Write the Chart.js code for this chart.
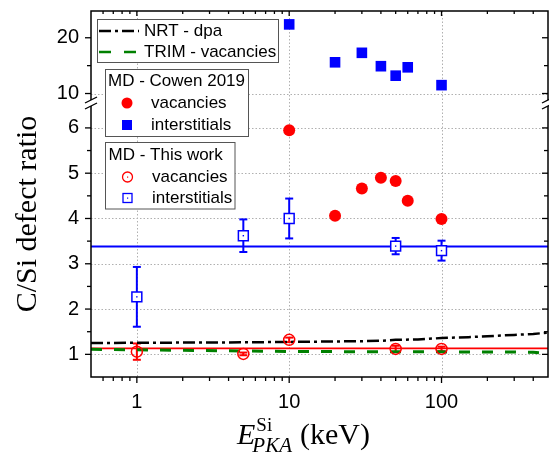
<!DOCTYPE html>
<html>
<head>
<meta charset="utf-8">
<script src="https://cdn.jsdelivr.net/npm/chart.js@4.4.0/dist/chart.umd.min.js"></script>
<style>
  html, body { margin: 0; padding: 0; background: #fff; overflow: hidden; }
  canvas { display: block; }
</style>
</head>
<body>
<canvas id="chart" width="549" height="454"></canvas>
<script>
// values (E_PKA in keV, C/Si ratio)
const nrtE = [0.5, 1, 2, 5, 10, 20, 30, 40, 50, 70, 100, 150, 200, 300, 400, 500];
const nrtRatio = [1.25, 1.255, 1.26, 1.265, 1.275, 1.285, 1.29, 1.30, 1.32, 1.33, 1.36, 1.38, 1.40, 1.43, 1.45, 1.48];
const trimE = [0.5, 1, 2, 5, 10, 20, 50, 100, 200, 300, 400, 500];
const trimRatio = [1.11, 1.10, 1.09, 1.075, 1.065, 1.06, 1.055, 1.055, 1.05, 1.05, 1.045, 1.02];

const cowenE = [10, 20, 30, 40, 50, 60, 100];
const cowenVac = [5.95, 4.06, 4.66, 4.90, 4.83, 4.39, 3.99];
const cowenInt = [22.4, 15.6, 17.3, 14.9, 13.2, 14.7, 11.5];

const workE = [1, 5, 10, 50, 100];
const workVac = [1.06, 1.01, 1.32, 1.12, 1.12];
const workVacErr = [0.18, 0.03, 0.05, 0.07, 0.05];
const workInt = [2.27, 3.62, 4.00, 3.39, 3.29];
const workIntErr = [0.66, 0.36, 0.44, 0.18, 0.22];

const fitE = [0.5, 500];
const fitVac = [1.13, 1.13];
const fitInt = [3.38, 3.38];

const xTicks = [1, 10, 100];
const xMinor = [0.6, 0.7, 0.8, 0.9, 2, 3, 4, 5, 6, 7, 8, 9, 20, 30, 40, 50, 60, 70, 80, 90, 200, 300, 400];
const yLowTicks = [1, 2, 3, 4, 5, 6];
const yLowMinor = [1.5, 2.5, 3.5, 4.5, 5.5];
const yHighTicks = [10, 20];
const yHighMinor = [15];
const yHighGrid = [10];

const theoryLabels = ['NRT - dpa', 'TRIM - vacancies'];
const cowenLabels = ['MD - Cowen 2019', 'vacancies', 'interstitials'];
const workLabels = ['MD - This work', 'vacancies', 'interstitials'];

const sans = '"Liberation Sans", Arial, sans-serif';
const serif = '"Liberation Serif", "Times New Roman", serif';
const BLUE = '#0000ff', RED = '#ff0000', GREEN = '#008000';

Chart.defaults.font.family = sans;
Chart.defaults.color = '#000';

const pts = (xs, ys) => xs.map((x, i) => ({ x: x, y: ys[i] }));

function seg(ctx, x1, y1, x2, y2) {
    ctx.beginPath();
    ctx.moveTo(x1, y1);
    ctx.lineTo(x2, y2);
    ctx.stroke();
}

function errBars(ctx, xs, ys, xv, yv, ev, color) {
    ctx.strokeStyle = color;
    ctx.lineWidth = 2;
    xv.forEach((e, i) => {
        const px = xs.getPixelForValue(e);
        const top = ys.getPixelForValue(yv[i] + ev[i]);
        const bot = ys.getPixelForValue(yv[i] - ev[i]);
        seg(ctx, px, top, px, bot);
        seg(ctx, px - 4, top, px + 4, top);
        seg(ctx, px - 4, bot, px + 4, bot);
    });
}

function legendBox(ctx, x, y, w, h) {
    ctx.fillStyle = '#fff';
    ctx.fillRect(x, y, w, h);
    ctx.strokeStyle = '#555';
    ctx.lineWidth = 1;
    ctx.strokeRect(x, y, w, h);
}

// no extra label padding, so the plot box is set only by the layout numbers
function noPad(s) {
    s.paddingTop = 0;
    s.paddingBottom = 0;
    s.paddingLeft = 0;
    s.paddingRight = 0;
}

const decor = {
    id: 'decor',
    beforeDatasetsDraw(chart) {
        const { ctx, chartArea: a, scales } = chart;
        const xs = scales.x, yl = scales.yLow, yh = scales.yHigh;
        ctx.save();
        // dotted grid
        ctx.strokeStyle = '#b0b0b0';
        ctx.lineWidth = 1;
        ctx.setLineDash([1.5, 2]);
        xTicks.forEach(v => {
            const px = Math.round(xs.getPixelForValue(v)) + 0.5;
            seg(ctx, px, yh.top, px, yl.bottom);
        });
        yLowTicks.forEach(v => {
            const py = Math.round(yl.getPixelForValue(v)) + 0.5;
            seg(ctx, a.left, py, a.right, py);
        });
        yHighGrid.forEach(v => {
            const py = Math.round(yh.getPixelForValue(v)) + 0.5;
            seg(ctx, a.left, py, a.right, py);
        });
        ctx.setLineDash([]);
        errBars(ctx, xs, yl, workE, workInt, workIntErr, BLUE);
        errBars(ctx, xs, yl, workE, workVac, workVacErr, RED);
        ctx.restore();
    },
    afterDatasetsDraw(chart) {
        const { ctx, chartArea: a, scales } = chart;
        const xs = scales.x, yl = scales.yLow, yh = scales.yHigh;
        ctx.save();

        // centre dots of the open markers
        workE.forEach((e, i) => {
            const px = xs.getPixelForValue(e);
            ctx.fillStyle = BLUE;
            ctx.fillRect(px - 0.7, yl.getPixelForValue(workInt[i]) - 0.7, 1.4, 1.4);
            ctx.fillStyle = RED;
            ctx.fillRect(px - 0.7, yl.getPixelForValue(workVac[i]) - 0.7, 1.4, 1.4);
        });

        // frame
        const top = yh.top, bottom = yl.bottom;
        ctx.strokeStyle = '#000';
        ctx.lineWidth = 1.5;
        ctx.strokeRect(a.left, top, a.right - a.left, bottom - top);

        // ticks
        ctx.lineWidth = 1.3;
        const xTick = (v, len) => {
            const px = xs.getPixelForValue(v);
            seg(ctx, px, bottom, px, bottom + len);
            seg(ctx, px, top, px, top + len - 1);
        };
        xTicks.forEach(v => xTick(v, 6));
        xMinor.forEach(v => xTick(v, 4));
        const yTick = (sc, v, len) => {
            const py = sc.getPixelForValue(v);
            seg(ctx, a.left - len, py, a.left, py);
            seg(ctx, a.right - len, py, a.right, py);
        };
        yLowTicks.forEach(v => yTick(yl, v, 6));
        yLowMinor.forEach(v => yTick(yl, v, 4));
        yHighTicks.forEach(v => yTick(yh, v, 6));
        yHighMinor.forEach(v => yTick(yh, v, 4));

        // axis break
        const b = yl.top;
        [a.left, a.right].forEach(xx => {
            ctx.fillStyle = '#fff';
            ctx.fillRect(xx - 2, b - 3, 4, 6);
            ctx.lineWidth = 1.3;
            seg(ctx, xx - 6, b, xx + 6, b - 6);
            seg(ctx, xx - 6, b + 6, xx + 6, b);
        });

        // legends
        ctx.textBaseline = 'middle';
        ctx.textAlign = 'left';
        ctx.font = '17px ' + sans;

        legendBox(ctx, 97.5, 19.5, 181, 43);
        ctx.strokeStyle = '#000';
        ctx.lineWidth = 2.5;
        ctx.setLineDash([12, 4, 3, 4]);
        seg(ctx, 99, 31, 139, 31);
        ctx.strokeStyle = GREEN;
        ctx.setLineDash([12, 13]);
        seg(ctx, 99, 52, 139, 52);
        ctx.setLineDash([]);
        ctx.fillStyle = '#000';
        ctx.fillText(theoryLabels[0], 144, 31);
        ctx.fillText(theoryLabels[1], 144, 52);

        legendBox(ctx, 105.5, 69.5, 143, 67);
        ctx.fillStyle = '#000';
        ctx.fillText(cowenLabels[0], 108, 81);
        ctx.fillText(cowenLabels[1], 151, 103);
        ctx.fillText(cowenLabels[2], 151, 125);
        ctx.fillStyle = RED;
        ctx.beginPath();
        ctx.arc(127, 103, 5.5, 0, Math.PI * 2);
        ctx.fill();
        ctx.fillStyle = BLUE;
        ctx.fillRect(122, 120, 10, 10);

        legendBox(ctx, 105.5, 142.5, 129.5, 66.5);
        ctx.fillStyle = '#000';
        ctx.fillText(workLabels[0], 108.5, 155);
        ctx.fillText(workLabels[1], 152, 177);
        ctx.fillText(workLabels[2], 152, 198);
        ctx.lineWidth = 1.3;
        ctx.strokeStyle = RED;
        ctx.beginPath();
        ctx.arc(127.5, 177, 5, 0, Math.PI * 2);
        ctx.stroke();
        ctx.strokeStyle = BLUE;
        ctx.strokeRect(123, 193.5, 9, 9);
        ctx.fillStyle = RED;
        ctx.fillRect(127, 176.5, 1.2, 1.2);
        ctx.fillStyle = BLUE;
        ctx.fillRect(127, 197.5, 1.2, 1.2);

        // axis titles
        ctx.fillStyle = '#000';
        ctx.save();
        ctx.translate(36, 214);
        ctx.rotate(-Math.PI / 2);
        ctx.textAlign = 'center';
        ctx.textBaseline = 'alphabetic';
        ctx.font = '30px ' + serif;
        ctx.fillText('C/Si defect ratio', 0, 0);
        ctx.restore();

        ctx.textBaseline = 'alphabetic';
        const x0 = 237;
        ctx.font = 'italic 30px ' + serif;
        ctx.fillText('E', x0, 444);
        const eW = ctx.measureText('E').width;
        ctx.font = '19px ' + serif;
        ctx.fillText('Si', x0 + eW + 1, 431);
        const supEnd = x0 + eW + 1 + ctx.measureText('Si').width;
        ctx.font = 'italic 21px ' + serif;
        ctx.fillText('PKA', x0 + eW - 3, 452);
        const subEnd = x0 + eW - 3 + ctx.measureText('PKA').width;
        ctx.font = '30px ' + serif;
        ctx.fillText('(keV)', Math.max(supEnd, subEnd) + 8, 444);

        ctx.restore();
    }
};

const hiddenGrid = { display: false, drawTicks: false };

new Chart(document.getElementById('chart'), {
    type: 'scatter',
    data: {
        datasets: [
            { data: pts(cowenE, cowenInt), yAxisID: 'yHigh', pointStyle: 'rect', pointRadius: 7.5,
              backgroundColor: BLUE, borderColor: BLUE, borderWidth: 0 },
            { data: pts(cowenE, cowenVac), yAxisID: 'yLow', pointStyle: 'circle', pointRadius: 6,
              backgroundColor: RED, borderColor: RED, borderWidth: 0 },
            { data: pts(workE, workInt), yAxisID: 'yLow', pointStyle: 'rect', pointRadius: 7,
              backgroundColor: '#fff', borderColor: BLUE, borderWidth: 1.5 },
            { data: pts(workE, workVac), yAxisID: 'yLow', pointStyle: 'circle', pointRadius: 5.5,
              backgroundColor: 'rgba(255,255,255,0)', borderColor: RED, borderWidth: 1.5 },
            { data: pts(nrtE, nrtRatio), yAxisID: 'yLow', showLine: true, pointRadius: 0,
              borderColor: '#000', borderWidth: 2.5, borderDash: [12, 4, 3, 4] },
            { data: pts(trimE, trimRatio), yAxisID: 'yLow', showLine: true, pointRadius: 0,
              borderColor: GREEN, borderWidth: 3, borderDash: [11, 12] },
            { data: pts(fitE, fitVac), yAxisID: 'yLow', showLine: true, pointRadius: 0,
              borderColor: RED, borderWidth: 1.8 },
            { data: pts(fitE, fitInt), yAxisID: 'yLow', showLine: true, pointRadius: 0,
              borderColor: BLUE, borderWidth: 2 }
        ]
    },
    options: {
        responsive: false,
        animation: false,
        layout: { autoPadding: false, padding: { top: 11, right: 1, left: 0, bottom: 0 } },
        plugins: { legend: { display: false }, tooltip: { enabled: false } },
        scales: {
            x: {
                type: 'logarithmic', position: 'bottom', min: 0.5, max: 500,
                grid: hiddenGrid, border: { display: false },
                afterBuildTicks: s => { s.ticks = xTicks.map(v => ({ value: v })); },
                afterFit: s => { s.height = 77; noPad(s); },
                ticks: { font: { size: 20 }, padding: 13, maxRotation: 0, callback: v => String(v) }
            },
            yLow: {
                type: 'linear', position: 'left', min: 0.5, max: 6.55,
                stack: 'ratio', stackWeight: 274,
                grid: hiddenGrid, border: { display: false },
                afterBuildTicks: s => { s.ticks = yLowTicks.map(v => ({ value: v })); },
                afterFit: s => { s.width = 91; noPad(s); },
                ticks: { font: { size: 20 }, padding: 12 }
            },
            yHigh: {
                type: 'linear', position: 'left', min: 8.3, max: 24.8,
                stack: 'ratio', stackWeight: 92,
                grid: hiddenGrid, border: { display: false },
                afterBuildTicks: s => { s.ticks = yHighTicks.map(v => ({ value: v })); },
                afterFit: s => { s.width = 91; noPad(s); },
                ticks: { font: { size: 20 }, padding: 12 }
            }
        }
    },
    plugins: [decor]
});
</script>
</body>
</html>
